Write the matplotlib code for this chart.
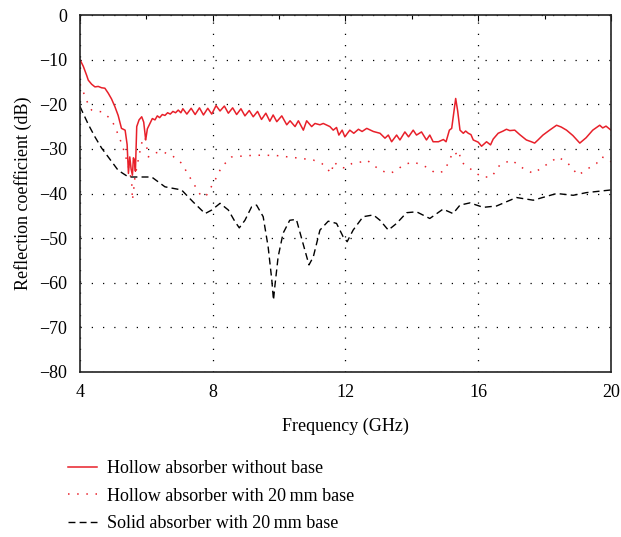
import matplotlib
matplotlib.use('Agg')
import matplotlib.pyplot as plt
from matplotlib.ticker import MultipleLocator

plt.rcParams['font.family'] = ['Liberation Serif', 'DejaVu Serif']
plt.rcParams['font.size'] = 13

# Hollow absorber without base (solid red)
f_hollow = [4.00, 4.10, 4.20, 4.25, 4.35, 4.45, 4.55, 4.65, 4.75, 4.85, 4.95, 5.05, 5.15, 5.25, 5.36,
            5.42, 5.46, 5.50, 5.54, 5.58, 5.61, 5.64, 5.67, 5.71, 5.78, 5.86, 5.92, 5.98, 6.03, 6.11,
            6.18, 6.26, 6.33, 6.40, 6.48, 6.56, 6.64, 6.72, 6.80, 6.88, 6.96, 7.04,
            7.10, 7.22, 7.35, 7.47, 7.60, 7.72, 7.85, 7.97, 8.10, 8.22, 8.35, 8.47, 8.60, 8.72,
            8.85, 8.97, 9.10, 9.22, 9.35, 9.47, 9.60, 9.72,
            9.82, 9.93, 10.08, 10.23, 10.33, 10.48, 10.58, 10.73, 10.83, 10.98, 11.08, 11.23, 11.33,
            11.53, 11.63, 11.73, 11.80, 11.90, 11.98, 12.13, 12.25, 12.39, 12.50, 12.64, 12.84, 13.04,
            13.19, 13.29, 13.39, 13.54, 13.64, 13.79, 13.90, 14.04, 14.14, 14.29, 14.44, 14.54, 14.64,
            14.80, 14.95, 15.03, 15.13, 15.20, 15.26, 15.32, 15.38, 15.45, 15.55, 15.62, 15.70, 15.78,
            15.85, 16.00, 16.10, 16.25, 16.37, 16.45, 16.60, 16.75, 16.85, 16.95, 17.10, 17.25, 17.45,
            17.60, 17.70, 17.80, 17.95, 18.15, 18.36, 18.50, 18.66, 18.85, 19.06, 19.25, 19.45, 19.60,
            19.66, 19.75, 19.85, 20.00]
r_hollow = [-10.0, -11.5, -13.5, -14.6, -15.5, -16.1, -16.0, -16.3, -16.4, -17.5, -18.8, -20.5, -22.5, -25.4, -25.8,
            -29.0, -35.5, -31.8, -34.5, -35.9, -32.0, -32.5, -35.0, -25.0, -23.5, -22.8, -24.0, -28.0, -25.5, -24.3,
            -23.2, -23.5, -22.6, -23.0, -22.3, -22.5, -21.9, -22.2, -21.6, -21.9, -21.3, -21.9,
            -21.0, -22.2, -20.9, -22.3, -20.8, -22.4, -20.9, -22.2, -20.3, -21.5, -20.4, -22.0, -20.8, -22.3,
            -21.0, -22.6, -21.4, -22.8, -21.6, -23.4, -22.0, -23.8,
            -22.4, -23.9, -22.6, -24.6, -23.7, -25.0, -23.7, -25.8, -23.7, -25.0, -24.3, -24.6, -24.3,
            -25.0, -25.8, -25.2, -26.9, -25.8, -27.3, -25.8, -26.5, -25.6, -26.1, -25.4, -26.1, -26.5,
            -27.6, -26.9, -28.4, -26.9, -28.0, -26.2, -27.3, -25.8, -26.9, -26.2, -28.0, -26.9, -28.4,
            -28.4, -27.9, -28.4, -25.8, -25.4, -22.0, -18.7, -21.5, -25.8, -26.5, -26.0, -26.5, -26.8,
            -28.0, -28.5, -29.4, -28.4, -29.1, -27.8, -26.5, -26.0, -25.6, -25.9, -25.8, -26.8, -28.0,
            -28.4, -28.7, -28.0, -26.9, -25.8, -24.7, -25.1, -25.8, -27.0, -28.7, -27.5, -25.8, -25.0,
            -24.7, -25.3, -24.9, -25.8]

# Hollow absorber with 20 mm base (red dotted)
f_base = [4.00, 4.05, 4.15, 4.25, 4.35, 4.50, 4.65, 4.80, 4.95, 5.05, 5.15, 5.25, 5.35, 5.46, 5.52,
          5.56, 5.58, 5.62, 5.66, 5.71, 5.78, 5.86, 5.96, 6.01, 6.06, 6.21, 6.46, 6.76, 7.06, 7.36,
          7.66, 7.81, 8.07, 8.27, 8.57, 9.07, 9.50, 9.93, 10.27, 10.63, 11.03, 11.29, 11.44, 11.56,
          11.66, 11.79, 11.99, 12.19, 12.49, 12.64, 12.84, 13.04, 13.34, 13.54, 13.74, 14.04, 14.29,
          14.54, 14.69, 14.94, 15.09, 15.22, 15.30, 15.36, 15.42, 15.50, 15.75, 16.10, 16.40, 16.65,
          17.00, 17.36, 17.66, 17.96, 18.41, 18.71, 19.01, 19.31, 19.56, 19.71, 19.86, 20.00]
r_base = [-15.5, -16.1, -18.3, -20.0, -21.3, -21.5, -21.7, -22.5, -23.5, -25.0, -26.8, -28.7, -31.0, -34.0, -36.0,
          -37.7, -41.5, -39.0, -36.0, -34.3, -31.5, -28.7, -27.3, -29.5, -31.8, -31.0, -30.6, -31.4, -33.2, -37.0,
          -40.7, -40.4, -37.0, -34.0, -31.8, -31.5, -31.4, -31.5, -31.8, -32.1, -32.5, -33.3, -34.3, -35.5,
          -32.9, -34.0, -34.3, -33.3, -32.9, -32.5, -33.6, -34.8, -35.5, -34.8, -33.6, -32.9, -33.6,
          -34.4, -35.4, -35.1, -33.3, -31.0, -30.6, -31.5, -30.8, -33.0, -34.4, -36.3, -36.3, -33.6,
          -32.5, -34.4, -35.5, -34.0, -31.8, -33.3, -35.9, -34.4, -33.3, -31.8, -32.1, -32.9]

# Solid absorber with 20 mm base (black dashed)
f_solid = [4.00, 4.05, 4.25, 4.45, 4.65, 4.85, 5.15, 5.46, 5.86, 6.16, 6.56, 7.06, 7.41, 7.77, 7.97,
           8.22, 8.47, 8.67, 8.80, 8.97, 9.17, 9.32, 9.52, 9.67, 9.78, 9.83, 9.87, 9.97, 10.12, 10.32,
           10.52, 10.72, 10.90, 11.03, 11.23, 11.48, 11.73, 11.93, 12.05, 12.23, 12.53, 12.84, 13.04,
           13.29, 13.54, 13.84, 14.14, 14.54, 14.94, 15.24, 15.45, 15.75, 16.15, 16.55, 17.15, 17.66,
           18.36, 18.86, 19.26, 20.00]
r_solid = [-20.5, -21.3, -24.5, -27.3, -29.8, -31.8, -34.8, -36.3, -36.3, -36.3, -38.5, -39.2, -41.9, -44.5, -43.7,
           -42.2, -43.7, -46.3, -47.7, -46.0, -43.0, -42.6, -45.2, -52.0, -59.4, -63.9, -60.9, -54.2, -48.9, -46.0,
           -45.8, -51.2, -56.0, -54.2, -48.2, -46.2, -46.7, -49.7, -50.8, -48.2, -45.2, -44.8, -46.0,
           -48.2, -46.7, -44.3, -44.1, -45.6, -43.5, -44.5, -42.6, -42.1, -43.1, -42.8, -40.9, -41.5,
           -40.0, -40.4, -39.8, -39.2]

labels = ['Hollow absorber without base', 'Hollow absorber with 20\u2009mm base',
          'Solid absorber with 20\u2009mm base']
red = '#e8202a'

fig = plt.figure(figsize=(6.21, 5.37), dpi=100)
ax = fig.add_axes([0.1288, 0.3073, 0.8551, 0.6647])

l1, = ax.plot(f_hollow, r_hollow, color=red, lw=1.1, label=labels[0])
l2, = ax.plot(f_base, r_base, color=red, lw=1.1, linestyle=(0, (1, 5)), label=labels[1])
l3, = ax.plot(f_solid, r_solid, color='black', lw=1.0, linestyle=(0, (5, 3)), label=labels[2])

ax.set_xlim(4, 20)
ax.set_ylim(-80, 0)
ax.xaxis.set_major_locator(MultipleLocator(4))
ax.xaxis.set_minor_locator(MultipleLocator(2))
ax.yaxis.set_major_locator(MultipleLocator(10))
ax.tick_params(which='both', direction='in', top=True, bottom=False, left=False, right=False,
               labeltop=False, length=3, width=0.8, pad=9)
ax.tick_params(axis='x', which='major', length=4)
ax.tick_params(labelsize=13)

ax.xaxis.grid(True, which='major', color='black', lw=0.9, linestyle=(0, (1, 8)))
ax.yaxis.grid(True, which='major', color='black', lw=0.9, linestyle=(0, (1, 8)))
for sp in ax.spines.values():
    sp.set_linewidth(1.2)
    sp.set_color('#222222')

ax.set_xlabel('Frequency (GHz)', fontsize=13, labelpad=12)
ax.set_ylabel('Reflection coefficient (dB)', fontsize=13, labelpad=5)
ax.yaxis.set_major_formatter(matplotlib.ticker.FuncFormatter(
    lambda v, p: '0' if v == 0 else '\u2212%d' % abs(v)))

fig.legend(handles=[l1, l2, l3], loc='upper left', bbox_to_anchor=(0.109, 0.143),
           frameon=False, fontsize=13, handlelength=1.6, handletextpad=0.6,
           labelspacing=0.58, borderaxespad=0, borderpad=0)

fig.savefig('out.png', dpi=100)
